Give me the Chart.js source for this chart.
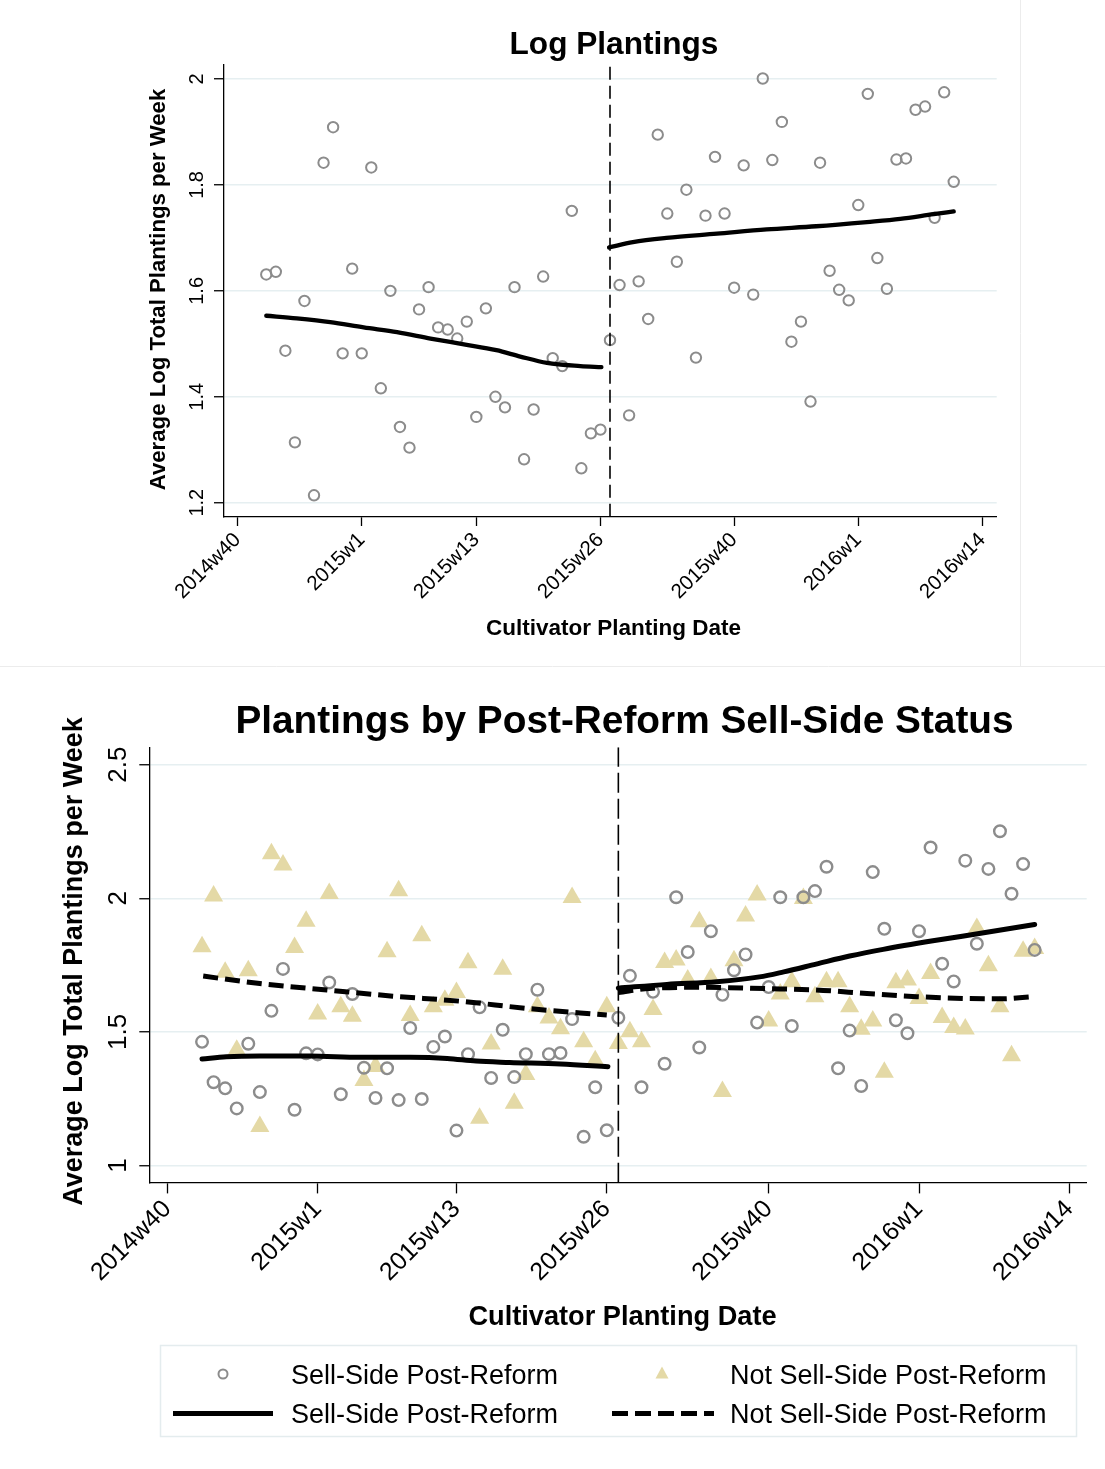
<!DOCTYPE html>
<html>
<head>
<meta charset="utf-8">
<script src="https://cdn.jsdelivr.net/npm/chart.js@4.4.1/dist/chart.umd.min.js"></script>
<style>
  html, body { margin: 0; padding: 0; background: #fff; }
  canvas { position: absolute; left: 0; }
  #topChart { top: 0; }
  #bottomChart { top: 670px; }
</style>
</head>
<body>
<canvas id="topChart" width="1105" height="670"></canvas>
<canvas id="bottomChart" width="1105" height="799"></canvas>
<script>
const FONT = "'Liberation Sans', Arial, Helvetica, sans-serif";

// Horizontal axis: weeks counted from 2014w40 (= 0)
const tickWeeks  = [0, 13, 25, 38, 52, 65, 78];
const tickLabels = ['2014w40', '2015w1', '2015w13', '2015w26', '2015w40', '2016w1', '2016w14'];
const reformWeek = 39;

// Observation weeks (2014w43 ... 2016w11)
const weeks = [3,4,5,6,7,8,9,10,11,12,13,14,15,16,17,18,19,20,21,22,23,24,25,26,27,28,29,30,31,32,33,34,35,36,37,38,
               39,40,41,42,43,44,45,46,47,48,49,50,51,52,53,54,55,56,57,58,59,60,61,62,63,64,65,66,67,68,69,70,71,72,73,74,75];

// Panel 1: average log total plantings per week
const logPlantings = [1.631,1.636,1.487,1.314,1.581,1.214,1.842,1.909,1.482,1.642,
                      1.482,1.833,1.416,1.600,1.343,1.304,1.565,1.607,1.531,1.527,
                      1.510,1.542,1.362,1.567,1.400,1.380,1.607,1.282,1.376,1.627,
                      1.473,1.458,1.751,1.265,1.331,1.338,
                      1.507,1.611,1.365,1.618,1.547,1.895,1.746,1.655,1.791,1.474,
                      1.742,1.853,1.746,1.606,1.837,1.593,2.001,1.847,1.919,1.504,
                      1.542,1.391,1.842,1.638,1.602,1.582,1.762,1.972,1.662,1.604,
                      1.848,1.850,1.942,1.948,1.738,1.975,1.806];
// Smoothed fit, before and after the reform
const fitPreWeeksTop  = [3.0, 6.2, 9.7, 13.2, 16.7, 20.2, 23.7, 27.1, 29.6, 32.4, 35.9, 38.1];
const fitPreTop       = [1.553, 1.548, 1.541, 1.531, 1.522, 1.510, 1.499, 1.488, 1.476, 1.464, 1.458, 1.456];
const fitPostWeeksTop = [38.9, 41.4, 44.9, 50.2, 55.4, 60.6, 65.9, 69.4, 72.9, 75.0];
const fitPostTop      = [1.682, 1.692, 1.700, 1.708, 1.716, 1.722, 1.730, 1.736, 1.745, 1.750];
const yTicksTop  = [1.2, 1.4, 1.6, 1.8, 2.0];
const yLabelsTop = ['1.2', '1.4', '1.6', '1.8', '2'];

// Panel 2: by post-reform sell-side status
const sellSide = [1.463,1.312,1.289,1.214,1.456,1.275,1.579,1.736,1.209,1.420,
                  1.416,1.685,1.267,1.642,1.366,1.253,1.364,1.245,1.515,1.249,
                  1.444,1.483,1.131,1.417,1.592,1.328,1.508,1.331,1.417,1.658,
                  1.417,1.421,1.548,1.108,1.293,1.132,
                  1.553,1.710,1.293,1.650,1.381,2.004,1.799,1.442,1.877,1.639,
                  1.731,1.790,1.535,1.668,2.004,1.522,2.004,2.027,2.118,1.364,
                  1.505,1.298,2.098,1.886,1.544,1.495,1.877,2.190,1.755,1.689,
                  2.141,1.830,2.110,2.251,2.017,2.128,1.807];
const notSellSide = [1.819,2.009,1.723,1.432,1.729,1.146,2.167,2.125,1.816,1.914,
                     1.567,2.018,1.594,1.559,1.318,1.371,1.800,2.028,1.562,1.860,
                     1.594,1.619,1.648,1.759,1.177,1.455,1.735,1.233,1.341,1.594,
                     1.552,1.512,2.003,1.463,1.392,1.594,
                     1.457,1.501,1.463,1.584,1.760,1.769,1.694,1.912,1.700,1.277,
                     1.766,1.934,2.012,1.541,1.642,1.688,1.999,1.632,1.688,1.688,
                     1.594,1.510,1.541,1.349,1.684,1.694,1.625,1.719,1.554,1.517,
                     1.511,1.887,1.748,1.594,1.411,1.802,1.812];
const fitSellPreWeeks  = [3.0, 5.1, 8.0, 12.3, 16.7, 21.0, 24.2, 26.7, 29.6, 34.0, 38.1];
const fitSellPre       = [1.399, 1.407, 1.410, 1.410, 1.405, 1.405, 1.401, 1.391, 1.386, 1.380, 1.370];
const fitSellPostWeeks = [39.0, 43.2, 47.5, 51.2, 53.3, 56.1, 59.0, 61.9, 66.2, 70.6, 75.0];
const fitSellPost      = [1.664, 1.678, 1.688, 1.706, 1.725, 1.754, 1.784, 1.809, 1.841, 1.871, 1.902];
const fitNotPreWeeks   = [3.1, 8.0, 13.8, 19.5, 25.3, 31.1, 38.0];
const fitNotPre        = [1.709, 1.681, 1.657, 1.634, 1.615, 1.588, 1.563];
const fitNotPostWeeks  = [39.0, 41.7, 46.1, 51.8, 56.1, 60.5, 64.8, 69.1, 72.0, 74.9];
const fitNotPost       = [1.648, 1.663, 1.667, 1.662, 1.657, 1.644, 1.632, 1.625, 1.624, 1.632];
const yTicksBottom  = [1, 1.5, 2, 2.5];
const yLabelsBottom = ['1', '1.5', '2', '2.5'];

const legendLabels = ['Sell-Side Post-Reform', 'Not Sell-Side Post-Reform'];

const GRAY = '#8c8c8c';
const SAND = 'rgb(228,217,166)';
const GRID = '#e6eff1';

const pts = (xs, ys) => xs.map((x, i) => ({ x, y: ys[i] }));

function xScale(fontSize, tickLen, pad, height) {
  return {
    type: 'linear', min: -1.5, max: 79.5,
    afterBuildTicks: s => { s.ticks = tickWeeks.map(v => ({ value: v })); },
    afterFit: s => { s.height = height; },
    ticks: {
      autoSkip: false, minRotation: 45, maxRotation: 45, padding: pad, color: '#000',
      font: { family: FONT, size: fontSize },
      callback: (v, i) => tickLabels[i]
    },
    grid: { drawOnChartArea: false, tickLength: tickLen, tickColor: '#000', tickWidth: 1.3 },
    border: { color: '#000', width: 1.3 }
  };
}

function yScale(min, max, ticks, labels, fontSize, tickLen, pad, width) {
  return {
    type: 'linear', min, max,
    afterBuildTicks: s => { s.ticks = ticks.map(v => ({ value: v })); },
    afterFit: s => { s.width = width; },
    ticks: {
      autoSkip: false, minRotation: 90, maxRotation: 90, crossAlign: 'center', padding: pad, color: '#000',
      font: { family: FONT, size: fontSize },
      callback: (v, i) => labels[i]
    },
    grid: { color: GRID, lineWidth: 1.5, tickLength: tickLen, tickColor: '#000', tickWidth: 1.3 },
    border: { color: '#000', width: 1.3 }
  };
}

function drawText(ctx, t) {
  ctx.save();
  ctx.font = (t.bold ? 'bold ' : '') + t.size + 'px ' + FONT;
  ctx.fillStyle = '#000';
  ctx.textAlign = t.align || 'center';
  ctx.textBaseline = 'alphabetic';
  ctx.translate(t.x, t.y);
  if (t.rot) ctx.rotate(t.rot);
  ctx.fillText(t.text, 0, 0);
  ctx.restore();
}

function fitLine(xs, ys, width, dash) {
  return {
    data: pts(xs, ys), showLine: true, borderColor: '#000', borderWidth: width,
    borderDash: dash || [], borderCapStyle: dash ? 'butt' : 'round', borderJoinStyle: 'round',
    cubicInterpolationMode: 'monotone', pointRadius: 0, pointHoverRadius: 0, fill: false
  };
}

function reformLine(min, max, dash) {
  return {
    data: [{ x: reformWeek, y: min }, { x: reformWeek, y: max }], showLine: true,
    borderColor: '#000', borderWidth: 1.6, borderDash: dash, pointRadius: 0, pointHoverRadius: 0
  };
}

const common = {
  responsive: false, animation: false, devicePixelRatio: 1,
  events: [],
  plugins: { legend: { display: false }, tooltip: { enabled: false }, title: { display: false } }
};

/* ---------- Panel 1 ---------- */
const topMin = 1.1736, topMax = 2.0278;
new Chart(document.getElementById('topChart'), {
  type: 'scatter',
  data: {
    datasets: [
      reformLine(topMin, topMax, [13, 6]),
      fitLine(fitPreWeeksTop, fitPreTop, 4.3),
      fitLine(fitPostWeeksTop, fitPostTop, 4.3),
      {
        data: pts(weeks, logPlantings), pointStyle: 'circle', pointRadius: 5.2, pointHoverRadius: 5.2,
        pointBorderWidth: 2, pointBorderColor: GRAY, pointBackgroundColor: 'rgba(0,0,0,0)', showLine: false
      }
    ]
  },
  options: Object.assign({}, common, {
    layout: { padding: { left: 0, right: 108.3, top: 64.3, bottom: 0 } },
    scales: {
      x: xScale(20.5, 9.3, 2, 153.3),
      y: yScale(topMin, topMax, yTicksTop, yLabelsTop, 20, 9.3, 2.6, 223.3)
    }
  }),
  plugins: [{
    id: 'panelText',
    afterDraw(chart) {
      const ctx = chart.ctx;
      drawText(ctx, { text: 'Log Plantings', x: 614, y: 54, size: 31.6, bold: true });
      drawText(ctx, { text: 'Average Log Total Plantings per Week', x: 165, y: 289.5, size: 22.2, bold: true, rot: -Math.PI / 2 });
      drawText(ctx, { text: 'Cultivator Planting Date', x: 613.5, y: 635, size: 22.5, bold: true });
      // faint outline of the panel
      ctx.save();
      ctx.strokeStyle = '#ececec';
      ctx.lineWidth = 1;
      ctx.beginPath();
      ctx.moveTo(1020.5, 0); ctx.lineTo(1020.5, 667);
      ctx.moveTo(0, 666.5); ctx.lineTo(1105, 666.5);
      ctx.stroke();
      ctx.restore();
    }
  }]
});

/* ---------- Panel 2 ---------- */
const botMin = 0.936, botMax = 2.565;
new Chart(document.getElementById('bottomChart'), {
  type: 'scatter',
  data: {
    datasets: [
      reformLine(botMin, botMax, [20, 6]),
      fitLine(fitSellPreWeeks, fitSellPre, 5),
      fitLine(fitSellPostWeeks, fitSellPost, 5),
      fitLine(fitNotPreWeeks, fitNotPre, 5, [15, 7]),
      fitLine(fitNotPostWeeks, fitNotPost, 5, [15, 7]),
      {
        data: pts(weeks, sellSide), pointStyle: 'circle', pointRadius: 5.8, pointHoverRadius: 5.8,
        pointBorderWidth: 2.4, pointBorderColor: GRAY, pointBackgroundColor: 'rgba(0,0,0,0)', showLine: false
      },
      {
        data: pts(weeks, notSellSide), pointStyle: 'triangle', pointRadius: 11, pointHoverRadius: 11,
        pointBorderWidth: 0, pointBackgroundColor: SAND, pointBorderColor: SAND, showLine: false
      }
    ]
  },
  options: Object.assign({}, common, {
    layout: { padding: { left: 0, right: 18.3, top: 77.3, bottom: 0 } },
    scales: {
      x: xScale(25, 10.7, 1, 286.3),
      y: yScale(botMin, botMax, yTicksBottom, yLabelsBottom, 26, 10.7, 2.9, 150)
    }
  }),
  plugins: [{
    id: 'panelText',
    afterDraw(chart) {
      const ctx = chart.ctx;
      drawText(ctx, { text: 'Plantings by Post-Reform Sell-Side Status', x: 624.5, y: 63.3, size: 38.8, bold: true });
      drawText(ctx, { text: 'Average Log Total Plantings per Week', x: 82, y: 291.5, size: 27, bold: true, rot: -Math.PI / 2 });
      drawText(ctx, { text: 'Cultivator Planting Date', x: 622.5, y: 654.5, size: 27.2, bold: true });

      // legend
      ctx.save();
      ctx.strokeStyle = '#e4ecee';
      ctx.lineWidth = 1.5;
      ctx.strokeRect(160.5, 675.5, 916, 91);
      const row1 = 704, row2 = 743.5;
      // hollow circle
      ctx.beginPath();
      ctx.arc(223, row1, 4.5, 0, Math.PI * 2);
      ctx.strokeStyle = GRAY; ctx.lineWidth = 2; ctx.stroke();
      // filled triangle
      ctx.beginPath();
      ctx.moveTo(662, row1 - 7.5); ctx.lineTo(668.5, row1 + 4.5); ctx.lineTo(655.5, row1 + 4.5); ctx.closePath();
      ctx.fillStyle = SAND; ctx.fill();
      // solid fit line
      ctx.strokeStyle = '#000'; ctx.lineWidth = 5; ctx.lineCap = 'butt';
      ctx.beginPath(); ctx.moveTo(173, row2); ctx.lineTo(273, row2); ctx.stroke();
      // dashed fit line
      ctx.setLineDash([16, 7]);
      ctx.beginPath(); ctx.moveTo(612, row2); ctx.lineTo(714, row2); ctx.stroke();
      ctx.restore();
      const f = 27;
      drawText(ctx, { text: legendLabels[0], x: 291, y: row1 + 9.5, size: f, align: 'left' });
      drawText(ctx, { text: legendLabels[1], x: 730, y: row1 + 9.5, size: f, align: 'left' });
      drawText(ctx, { text: legendLabels[0], x: 291, y: row2 + 9.5, size: f, align: 'left' });
      drawText(ctx, { text: legendLabels[1], x: 730, y: row2 + 9.5, size: f, align: 'left' });
    }
  }]
});
</script>
</body>
</html>
